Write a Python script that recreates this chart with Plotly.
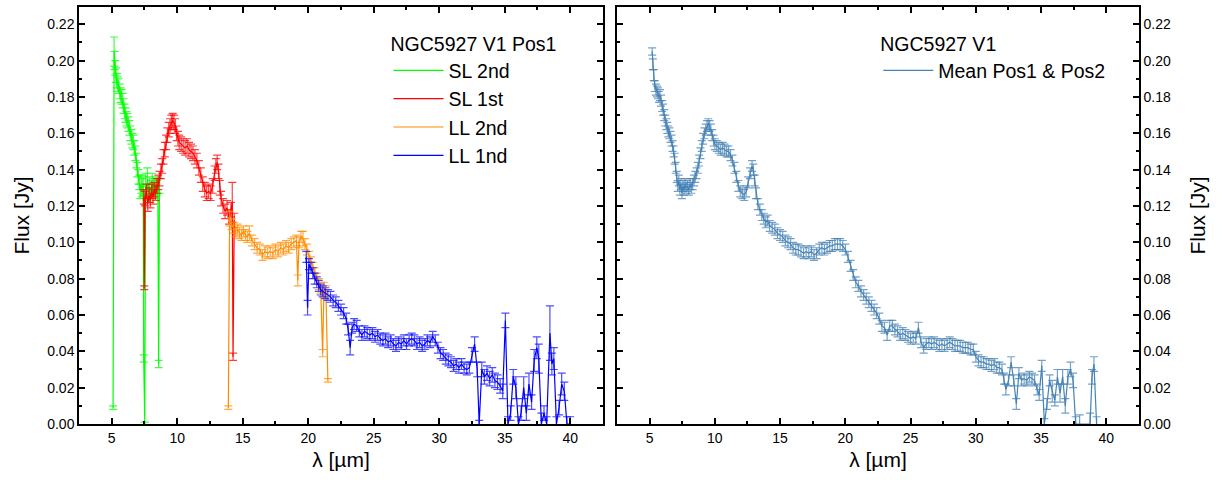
import plotly.graph_objects as go

# ---------------- data: left panel (NGC5927 V1 Pos1) ----------------
sl2_wl = [5.10, 5.18, 5.22, 5.27, 5.32, 5.38, 5.45, 5.52, 5.60, 5.68, 5.75, 5.83, 5.90, 5.98,
          6.05, 6.12, 6.20, 6.28, 6.35, 6.42, 6.50, 6.58, 6.65, 6.72, 6.80, 6.88, 6.95, 7.02,
          7.10, 7.18, 7.25, 7.32, 7.40, 7.44, 7.52, 7.58, 7.65, 7.72, 7.80, 7.87, 7.94, 8.02,
          8.09, 8.16, 8.23, 8.30, 8.38, 8.45, 8.52, 8.58, 8.64]
sl2_flux = [0.009, 0.205, 0.200, 0.196, 0.192, 0.189, 0.187, 0.186, 0.183, 0.181, 0.180, 0.178,
            0.175, 0.172, 0.170, 0.168, 0.167, 0.165, 0.163, 0.160, 0.158, 0.156, 0.155, 0.152,
            0.149, 0.145, 0.140, 0.136, 0.133, 0.128, 0.132, 0.130, 0.131, 0.036, 0.000, 0.132,
            0.127, 0.135, 0.128, 0.131, 0.126, 0.130, 0.133, 0.129, 0.131, 0.128, 0.132, 0.130,
            0.131, 0.033, 0.131]
sl2_err = [0.001, 0.008, 0.005, 0.004, 0.004, 0.004, 0.004, 0.004, 0.004, 0.004, 0.004, 0.004,
           0.004, 0.004, 0.004, 0.004, 0.004, 0.004, 0.004, 0.004, 0.004, 0.004, 0.004, 0.004,
           0.004, 0.004, 0.004, 0.004, 0.004, 0.004, 0.005, 0.005, 0.005, 0.002, 0.001, 0.006,
           0.004, 0.006, 0.004, 0.005, 0.004, 0.004, 0.005, 0.004, 0.004, 0.004, 0.004, 0.004,
           0.004, 0.002, 0.004]

sl1_wl = [7.45, 7.48, 7.55, 7.65, 7.75, 7.85, 7.95, 8.05, 8.15, 8.25, 8.35, 8.45, 8.55, 8.65,
          8.75, 8.85, 8.95, 9.05, 9.15, 9.25, 9.35, 9.45, 9.55, 9.65, 9.75, 9.85, 9.95, 10.05,
          10.15, 10.30, 10.45, 10.60, 10.75, 10.90, 11.05, 11.20, 11.35, 11.50, 11.65, 11.80,
          11.95, 12.10, 12.25, 12.40, 12.55, 12.70, 12.85, 12.95, 13.05, 13.15, 13.25, 13.35,
          13.50, 13.65, 13.80, 13.95, 14.10, 14.20, 14.26, 14.35]
sl1_flux = [0.125, 0.075, 0.124, 0.128, 0.121, 0.126, 0.123, 0.128, 0.125, 0.129, 0.127, 0.131,
            0.133, 0.135, 0.139, 0.142, 0.147, 0.151, 0.155, 0.159, 0.162, 0.164, 0.166, 0.167,
            0.166, 0.164, 0.160, 0.157, 0.155, 0.154, 0.153, 0.152, 0.153, 0.151, 0.150, 0.149,
            0.147, 0.145, 0.141, 0.137, 0.132, 0.129, 0.127, 0.128, 0.127, 0.131, 0.138, 0.142,
            0.144, 0.139, 0.130, 0.124, 0.120, 0.117, 0.119, 0.114, 0.118, 0.122, 0.037, 0.112]
sl1_err = [0.004, 0.001, 0.004, 0.004, 0.004, 0.004, 0.004, 0.004, 0.004, 0.004, 0.004, 0.004,
           0.004, 0.004, 0.004, 0.004, 0.004, 0.004, 0.004, 0.004, 0.004, 0.004, 0.004, 0.004,
           0.004, 0.004, 0.004, 0.004, 0.004, 0.004, 0.004, 0.004, 0.004, 0.004, 0.004, 0.004,
           0.004, 0.004, 0.004, 0.004, 0.004, 0.004, 0.004, 0.004, 0.004, 0.004, 0.004, 0.004,
           0.004, 0.004, 0.004, 0.004, 0.004, 0.004, 0.004, 0.004, 0.004, 0.011, 0.002, 0.004]

ll2_wl = [13.90, 14.00, 14.15, 14.30, 14.45, 14.60, 14.75, 14.90, 15.05, 15.20, 15.35, 15.50,
          15.70, 15.90, 16.10, 16.30, 16.50, 16.70, 16.90, 17.10, 17.30, 17.50, 17.70, 17.90,
          18.10, 18.30, 18.50, 18.70, 18.90, 19.10, 19.20, 19.30, 19.45, 19.60, 19.75, 19.90,
          20.05, 20.20, 20.35, 20.50, 20.65, 20.80, 20.95, 21.10, 21.20, 21.35, 21.50]
ll2_flux = [0.009, 0.113, 0.110, 0.108, 0.106, 0.107, 0.105, 0.104, 0.106, 0.104, 0.103, 0.105,
            0.101, 0.099, 0.097, 0.096, 0.093, 0.095, 0.094, 0.095, 0.094, 0.096, 0.095, 0.097,
            0.096, 0.098, 0.097, 0.099, 0.100, 0.101, 0.079, 0.100, 0.103, 0.102, 0.099, 0.096,
            0.092, 0.089, 0.086, 0.083, 0.080, 0.077, 0.075, 0.039, 0.075, 0.073, 0.024]
ll2_err = [0.001, 0.004, 0.003, 0.003, 0.003, 0.003, 0.003, 0.003, 0.003, 0.003, 0.003, 0.004,
           0.003, 0.003, 0.003, 0.003, 0.003, 0.003, 0.003, 0.003, 0.003, 0.003, 0.003, 0.003,
           0.003, 0.003, 0.003, 0.003, 0.003, 0.003, 0.003, 0.003, 0.003, 0.004, 0.003, 0.003,
           0.003, 0.003, 0.003, 0.003, 0.003, 0.003, 0.003, 0.002, 0.003, 0.003, 0.001]

ll1_wl = [19.85, 19.95, 20.05, 20.20, 20.35, 20.50, 20.65, 20.80, 20.95, 21.10, 21.30, 21.50,
          21.70, 21.90, 22.10, 22.30, 22.50, 22.70, 22.90, 23.05, 23.20, 23.35, 23.50, 23.70,
          23.90, 24.10, 24.30, 24.50, 24.70, 24.90, 25.10, 25.30, 25.50, 25.70, 25.90, 26.10,
          26.30, 26.50, 26.70, 26.90, 27.10, 27.30, 27.50, 27.70, 27.90, 28.10, 28.30, 28.50,
          28.70, 28.90, 29.10, 29.30, 29.50, 29.70, 29.90, 30.10, 30.30, 30.50, 30.70, 30.90,
          31.10, 31.30, 31.50, 31.70, 31.90, 32.10, 32.30, 32.50, 32.70, 32.90, 33.05, 33.25,
          33.45, 33.65, 33.85, 34.05, 34.25, 34.45, 34.65, 34.85, 35.05, 35.25, 35.45, 35.65,
          35.85, 36.05, 36.25, 36.45, 36.65, 36.85, 37.05, 37.25, 37.45, 37.60, 37.80, 38.00,
          38.20, 38.45, 38.60, 38.75, 38.95, 39.15, 39.35, 39.55, 39.75, 40.00]
ll1_flux = [0.092, 0.064, 0.088, 0.086, 0.083, 0.080, 0.078, 0.076, 0.074, 0.073, 0.072, 0.071,
            0.070, 0.068, 0.067, 0.065, 0.063, 0.061, 0.058, 0.052, 0.042, 0.053, 0.055, 0.054,
            0.051, 0.049, 0.051, 0.050, 0.049, 0.050, 0.048, 0.049, 0.047, 0.046, 0.047, 0.045,
            0.046, 0.044, 0.043, 0.045, 0.044, 0.046, 0.044, 0.046, 0.047, 0.046, 0.044, 0.045,
            0.043, 0.044, 0.046, 0.045, 0.048, 0.046, 0.042, 0.039, 0.038, 0.036, 0.035, 0.034,
            0.032, 0.033, 0.031, 0.033, 0.031, 0.030, 0.031, 0.038, 0.044, 0.030, 0.000, 0.030,
            0.026, 0.028, 0.025, 0.027, 0.024, 0.023, 0.021, 0.018, 0.057, 0.000, 0.006, 0.026,
            0.020, 0.000, 0.006, 0.020, 0.006, 0.022, 0.012, 0.035, 0.042, 0.036, 0.000, 0.006,
            0.000, 0.050, 0.033, 0.036, 0.000, 0.009, 0.022, 0.018, 0.000, 0.000]
ll1_err = [0.003, 0.004, 0.003, 0.003, 0.003, 0.003, 0.003, 0.003, 0.003, 0.003, 0.003, 0.003,
           0.003, 0.003, 0.003, 0.003, 0.003, 0.003, 0.003, 0.003, 0.004, 0.003, 0.003, 0.003,
           0.003, 0.003, 0.003, 0.003, 0.003, 0.003, 0.003, 0.003, 0.003, 0.003, 0.003, 0.003,
           0.003, 0.003, 0.003, 0.003, 0.003, 0.003, 0.003, 0.003, 0.003, 0.003, 0.003, 0.003,
           0.003, 0.003, 0.003, 0.003, 0.003, 0.003, 0.003, 0.003, 0.003, 0.003, 0.003, 0.003,
           0.003, 0.003, 0.003, 0.003, 0.003, 0.003, 0.003, 0.004, 0.004, 0.004, 0.002, 0.004,
           0.004, 0.004, 0.004, 0.004, 0.004, 0.004, 0.004, 0.004, 0.004, 0.004, 0.004, 0.004,
           0.006, 0.004, 0.004, 0.006, 0.004, 0.006, 0.004, 0.006, 0.006, 0.008, 0.006, 0.004,
           0.004, 0.015, 0.006, 0.006, 0.004, 0.004, 0.006, 0.005, 0.004, 0.004]

# ---------------- data: right panel (NGC5927 V1 mean) ----------------
mean_wl = [5.20, 5.25, 5.32, 5.40, 5.48, 5.56, 5.64, 5.72, 5.80, 5.88, 5.96, 6.04, 6.12, 6.20,
           6.28, 6.36, 6.44, 6.52, 6.60, 6.68, 6.76, 6.84, 6.92, 7.00, 7.08, 7.16, 7.24, 7.32,
           7.40, 7.48, 7.56, 7.64, 7.72, 7.80, 7.90, 8.00, 8.10, 8.20, 8.30, 8.40, 8.50, 8.60,
           8.70, 8.80, 8.90, 9.00, 9.10, 9.20, 9.30, 9.40, 9.50, 9.60, 9.70, 9.80, 9.90, 10.00,
           10.15, 10.30, 10.45, 10.60, 10.75, 10.90, 11.05, 11.20, 11.35, 11.50, 11.65, 11.80,
           11.95, 12.10, 12.25, 12.40, 12.55, 12.70, 12.85, 12.95, 13.05, 13.15, 13.30, 13.45,
           13.60, 13.75, 13.90, 14.05, 14.20, 14.40, 14.60, 14.80, 15.00, 15.20, 15.40, 15.60,
           15.80, 16.00, 16.20, 16.40, 16.60, 16.80, 17.00, 17.20, 17.40, 17.60, 17.80, 18.00,
           18.20, 18.40, 18.60, 18.80, 19.00, 19.20, 19.40, 19.60, 19.80, 20.00, 20.20, 20.40,
           20.60, 20.80, 21.00, 21.20, 21.40, 21.60, 21.80, 22.00, 22.20, 22.40, 22.60, 22.80,
           23.00, 23.20, 23.40, 23.60, 23.80, 24.00, 24.20, 24.40, 24.60, 24.80, 25.00, 25.20,
           25.40, 25.60, 25.80, 26.00, 26.20, 26.40, 26.60, 26.80, 27.00, 27.20, 27.40, 27.60,
           27.80, 28.00, 28.20, 28.40, 28.60, 28.80, 29.00, 29.20, 29.40, 29.60, 29.80, 30.00,
           30.20, 30.40, 30.60, 30.80, 31.00, 31.20, 31.40, 31.60, 31.80, 32.00, 32.15, 32.30,
           32.50, 32.70, 32.90, 33.10, 33.30, 33.50, 33.70, 33.90, 34.10, 34.30, 34.50, 34.70,
           34.85, 35.05, 35.25, 35.45, 35.65, 35.85, 36.05, 36.25, 36.45, 36.65, 36.85, 37.05,
           37.25, 37.45, 37.65, 37.95, 38.75, 38.90, 39.05, 39.25]
mean_flux = [0.205, 0.198, 0.192, 0.186, 0.184, 0.183, 0.182, 0.180, 0.181, 0.178, 0.175, 0.173,
             0.170, 0.167, 0.165, 0.163, 0.161, 0.160, 0.158, 0.156, 0.153, 0.150, 0.146, 0.141,
             0.136, 0.131, 0.134, 0.129, 0.132, 0.127, 0.131, 0.129, 0.132, 0.130, 0.131, 0.129,
             0.132, 0.130, 0.132, 0.134, 0.136, 0.138, 0.141, 0.145, 0.149, 0.153, 0.157, 0.160,
             0.162, 0.164, 0.165, 0.164, 0.162, 0.159, 0.156, 0.154, 0.153, 0.152, 0.151, 0.152,
             0.151, 0.150, 0.150, 0.148, 0.145, 0.141, 0.136, 0.131, 0.128, 0.127, 0.126, 0.128,
             0.133, 0.138, 0.142, 0.140, 0.134, 0.127, 0.121, 0.118, 0.115, 0.113, 0.111, 0.112,
             0.109, 0.108, 0.107, 0.105, 0.104, 0.103, 0.101, 0.100, 0.099, 0.097, 0.096, 0.096,
             0.095, 0.094, 0.095, 0.094, 0.095, 0.093, 0.094, 0.096, 0.097, 0.096, 0.097, 0.098,
             0.098, 0.099, 0.099, 0.099, 0.098, 0.096, 0.092, 0.087, 0.082, 0.078, 0.076, 0.073,
             0.071, 0.069, 0.067, 0.065, 0.063, 0.061, 0.058, 0.054, 0.053, 0.049, 0.054, 0.054,
             0.052, 0.051, 0.049, 0.050, 0.049, 0.048, 0.047, 0.048, 0.047, 0.053, 0.045, 0.042,
             0.044, 0.045, 0.044, 0.045, 0.044, 0.043, 0.044, 0.043, 0.044, 0.045, 0.044, 0.043,
             0.043, 0.043, 0.042, 0.042, 0.042, 0.041, 0.041, 0.037, 0.035, 0.034, 0.034, 0.033,
             0.033, 0.032, 0.033, 0.031, 0.031, 0.030, 0.025, 0.019, 0.024, 0.034, 0.024, 0.011,
             0.028, 0.024, 0.025, 0.024, 0.026, 0.025, 0.024, 0.019, 0.016, 0.032, 0.000, 0.011,
             0.024, 0.018, 0.013, 0.026, 0.017, 0.026, 0.010, 0.026, 0.030, 0.024, 0.000, 0.000,
             0.000, 0.026, 0.033, 0.000]
mean_err = [0.002, 0.003, 0.003, 0.003, 0.003, 0.003, 0.003, 0.003, 0.003, 0.003, 0.003, 0.003,
            0.003, 0.003, 0.003, 0.003, 0.003, 0.003, 0.003, 0.003, 0.003, 0.003, 0.003, 0.003,
            0.003, 0.003, 0.003, 0.003, 0.003, 0.003, 0.003, 0.003, 0.003, 0.003, 0.003, 0.003,
            0.003, 0.003, 0.003, 0.003, 0.003, 0.003, 0.003, 0.003, 0.003, 0.003, 0.003, 0.003,
            0.003, 0.003, 0.003, 0.003, 0.003, 0.003, 0.003, 0.003, 0.003, 0.003, 0.003, 0.003,
            0.003, 0.003, 0.003, 0.003, 0.003, 0.003, 0.003, 0.003, 0.003, 0.003, 0.003, 0.003,
            0.003, 0.003, 0.003, 0.003, 0.003, 0.003, 0.003, 0.003, 0.003, 0.003, 0.003, 0.003,
            0.003, 0.003, 0.003, 0.003, 0.003, 0.003, 0.003, 0.003, 0.003, 0.003, 0.003, 0.003,
            0.003, 0.003, 0.003, 0.003, 0.003, 0.003, 0.003, 0.003, 0.003, 0.003, 0.003, 0.003,
            0.003, 0.003, 0.003, 0.003, 0.003, 0.003, 0.003, 0.003, 0.003, 0.003, 0.003, 0.003,
            0.003, 0.003, 0.003, 0.003, 0.003, 0.003, 0.003, 0.003, 0.003, 0.003, 0.003, 0.003,
            0.003, 0.003, 0.003, 0.003, 0.003, 0.003, 0.003, 0.003, 0.003, 0.003, 0.003, 0.003,
            0.003, 0.003, 0.003, 0.003, 0.003, 0.003, 0.003, 0.003, 0.003, 0.003, 0.003, 0.003,
            0.003, 0.003, 0.003, 0.003, 0.003, 0.003, 0.003, 0.003, 0.003, 0.003, 0.003, 0.003,
            0.003, 0.003, 0.003, 0.003, 0.003, 0.003, 0.003, 0.003, 0.003, 0.003, 0.003, 0.003,
            0.003, 0.003, 0.003, 0.003, 0.003, 0.003, 0.003, 0.003, 0.003, 0.003, 0.003, 0.003,
            0.003, 0.006, 0.003, 0.004, 0.005, 0.004, 0.004, 0.004, 0.004, 0.004, 0.004, 0.005,
            0.006, 0.004, 0.004, 0.004, 0.004, 0.010, 0.006, 0.004]

x_ticks = [5, 10, 15, 20, 25, 30, 35, 40]

FONT = "Liberation Sans, Arial, sans-serif"

fig = go.Figure()


def add_series(x, y, err, name, color, ecolor, xa, ya, legend):
    fig.add_trace(go.Scatter(
        x=x, y=y, mode="lines", name=name,
        line=dict(color=color, width=1.2),
        error_y=dict(type="data", array=err, visible=True, color=ecolor,
                     thickness=1.2, width=4),
        xaxis=xa, yaxis=ya, legend=legend,
    ))


add_series(sl2_wl, sl2_flux, sl2_err, "SL 2nd", "#00FF00", "rgba(0,255,0,0.75)", "x", "y", "legend")
add_series(sl1_wl, sl1_flux, sl1_err, "SL 1st", "#FF0000", "rgba(255,0,0,0.75)", "x", "y", "legend")
add_series(ll2_wl, ll2_flux, ll2_err, "LL 2nd", "#FF8C00", "rgba(255,140,0,0.75)", "x", "y", "legend")
add_series(ll1_wl, ll1_flux, ll1_err, "LL 1nd", "#0000FF", "rgba(0,0,255,0.7)", "x", "y", "legend")
add_series(mean_wl, mean_flux, mean_err, "Mean Pos1 & Pos2", "#4682B4", "rgba(70,130,180,0.75)", "x2", "y2", "legend2")

axis_common = dict(
    showline=True, linecolor="black", linewidth=1.5, mirror="ticks",
    ticks="inside", ticklen=6, tickwidth=1.5, tickcolor="black",
    showgrid=False, zeroline=False,
    tickfont=dict(family=FONT, size=14, color="black"),
)

xcfg = dict(axis_common, range=[2.5, 42.5], tickvals=x_ticks,
            minor=dict(dtick=2.5, tick0=0, ticks="inside", ticklen=3.5, tickwidth=1.5, tickcolor="black"),
            title=dict(text="λ [µm]", font=dict(family=FONT, size=21, color="black"), standoff=8))
ycfg = dict(axis_common, range=[0, 0.2295], dtick=0.02, tick0=0, tickformat=".2f",
            minor=dict(dtick=0.01, tick0=0, ticks="inside", ticklen=3.5, tickwidth=1.5, tickcolor="black"),
            title=dict(text="Flux [Jy]", font=dict(family=FONT, size=21, color="black"), standoff=12))

y2cfg = dict(ycfg)
y2cfg["title"] = dict(text="Flux [Jy]", font=dict(family=FONT, size=21, color="black"), standoff=20)

LEG_FONT = 19.5

fig.update_layout(
    width=1218, height=480,
    margin=dict(l=79, r=79, t=5, b=56),
    paper_bgcolor="white", plot_bgcolor="white",
    font=dict(family=FONT, color="black"),
    xaxis=dict(xcfg, domain=[0, 0.4943], anchor="y"),
    yaxis=dict(ycfg, anchor="x"),
    xaxis2=dict(xcfg, domain=[0.5075, 1], anchor="y2"),
    yaxis2=dict(y2cfg, anchor="x2", side="right"),
    legend=dict(
        title=dict(text="NGC5927 V1 Pos1", font=dict(family=FONT, size=LEG_FONT, color="black")),
        font=dict(family=FONT, size=LEG_FONT, color="black"),
        x=0.292, y=0.955, xanchor="left", yanchor="top",
        bgcolor="rgba(0,0,0,0)", borderwidth=0, itemwidth=50,
    ),
    legend2=dict(
        title=dict(text="NGC5927 V1", font=dict(family=FONT, size=LEG_FONT, color="black")),
        font=dict(family=FONT, size=LEG_FONT, color="black"),
        x=0.754, y=0.955, xanchor="left", yanchor="top",
        bgcolor="rgba(0,0,0,0)", borderwidth=0, itemwidth=50,
    ),
    showlegend=True,
)

fig.write_html("out.html")
